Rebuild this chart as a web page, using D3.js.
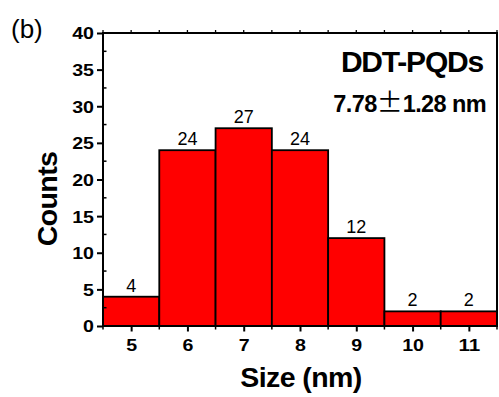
<!DOCTYPE html>
<html>
<head>
<meta charset="utf-8">
<script src="https://cdn.jsdelivr.net/npm/d3@7"></script>
<style>
  html, body { margin: 0; padding: 0; background: #fff; }
  svg { display: block; font-family: "Liberation Sans", Arial, sans-serif; }
</style>
</head>
<body>
<svg id="chart" width="499" height="397"></svg>
<script>
// Size histogram of DDT-PQDs
const sizes  = [5, 6, 7, 8, 9, 10, 11];          // bin centres (nm)
const counts = [4, 24, 27, 24, 12, 2, 2];         // particles per bin
const yTicks = [0, 5, 10, 15, 20, 25, 30, 35, 40];
const xTicks = [5, 6, 7, 8, 9, 10, 11];

const svg = d3.select("#chart");
const plotL = 103, plotR = 497, plotT = 33, plotB = 326;

const x = d3.scaleLinear().domain([4.5, 11.5]).range([plotL, plotR]);
const y = d3.scaleLinear().domain([0, 40]).range([plotB, plotT]);

const bins = sizes.map((s, i) => ({ s, c: counts[i] }));

// bars
svg.append("g").selectAll("rect")
  .data(bins)
  .join("rect")
  .attr("x", d => x(d.s - 0.5))
  .attr("width", d => x(d.s + 0.5) - x(d.s - 0.5))
  .attr("y", d => y(d.c))
  .attr("height", d => y(0) - y(d.c))
  .attr("fill", "#ff0000")
  .attr("stroke", "#000")
  .attr("stroke-width", 1.8);

// value labels
svg.append("g").selectAll("text")
  .data(bins)
  .join("text")
  .attr("x", d => x(d.s))
  .attr("y", d => y(d.c) - 5)
  .attr("text-anchor", "middle")
  .attr("font-size", 18)
  .attr("fill", "#000")
  .text(d => d.c);

// frame
svg.append("rect")
  .attr("x", plotL).attr("y", plotT)
  .attr("width", plotR - plotL).attr("height", plotB - plotT)
  .attr("fill", "none").attr("stroke", "#000").attr("stroke-width", 2);

// wide bold digits for tick labels
function wideDigits(sel) {
  sel.attr("font-size", 16.5).attr("font-weight", "bold").attr("fill", "#000")
     .attr("textLength", function () { return this.textContent.length * 10.9; })
     .attr("lengthAdjust", "spacingAndGlyphs");
}

// left axis
const yAxis = svg.append("g").attr("transform", `translate(${plotL},0)`)
  .call(d3.axisLeft(y).tickValues(yTicks).tickFormat(d3.format("d")).tickSize(6).tickPadding(3));
yAxis.select(".domain").remove();
yAxis.selectAll("line").attr("stroke-width", 2);
yAxis.selectAll("text").attr("dy", "0.36em").call(wideDigits);
// left minor ticks, inward
svg.append("g").selectAll("line")
  .data(d3.range(2.5, 40, 5))
  .join("line")
  .attr("x1", plotL).attr("x2", plotL + 3.5)
  .attr("y1", d => y(d)).attr("y2", d => y(d))
  .attr("stroke", "#000").attr("stroke-width", 1.5);

// bottom axis
const xAxis = svg.append("g").attr("transform", `translate(0,${plotB})`)
  .call(d3.axisBottom(x).tickValues(xTicks).tickFormat(d3.format("d")).tickSize(5.5).tickPadding(8));
xAxis.select(".domain").remove();
xAxis.selectAll("line").attr("stroke-width", 2);
xAxis.selectAll("text").attr("dy", "0.71em").call(wideDigits);
// bottom minor ticks at bin edges
svg.append("g").selectAll("line")
  .data(d3.range(4.5, 11.6, 1))
  .join("line")
  .attr("x1", d => x(d)).attr("x2", d => x(d))
  .attr("y1", plotB).attr("y2", plotB + 3.5)
  .attr("stroke", "#000").attr("stroke-width", 1.5);

// top ticks, outward
svg.append("g").selectAll("line")
  .data(d3.range(4.5, 11.6, 0.5))
  .join("line")
  .attr("x1", d => x(d)).attr("x2", d => x(d))
  .attr("y1", plotT).attr("y2", plotT - 3)
  .attr("stroke", "#000").attr("stroke-width", 1.3);

// axis titles
svg.append("text")
  .attr("transform", "translate(57,199) rotate(-90)")
  .attr("text-anchor", "middle")
  .attr("font-size", 28.5).attr("font-weight", "bold")
  .attr("letter-spacing", -0.6)
  .text("Counts");

svg.append("text")
  .attr("x", 301).attr("y", 387)
  .attr("text-anchor", "middle")
  .attr("font-size", 28.5).attr("font-weight", "bold")
  .attr("letter-spacing", -0.6)
  .text("Size (nm)");

// panel letter
svg.append("text")
  .attr("x", 11).attr("y", 38)
  .attr("font-size", 26)
  .text("(b)");

// sample annotation
svg.append("text")
  .attr("x", 483).attr("y", 72)
  .attr("text-anchor", "end")
  .attr("font-size", 30).attr("font-weight", "bold")
  .attr("letter-spacing", -1.2)
  .text("DDT-PQDs");

const ann = svg.append("text")
  .attr("x", 486).attr("y", 112)
  .attr("text-anchor", "end")
  .attr("font-size", 23.5).attr("font-weight", "bold")
  .attr("letter-spacing", -0.6);
ann.append("tspan").text("7.78");
ann.append("tspan")
  .attr("font-family", "'Noto Sans CJK SC', sans-serif")
  .attr("font-weight", "normal")
  .attr("font-size", 26)
  .attr("letter-spacing", 0)
  .text("±");
ann.append("tspan").text("1.28 nm");
</script>
</body>
</html>
